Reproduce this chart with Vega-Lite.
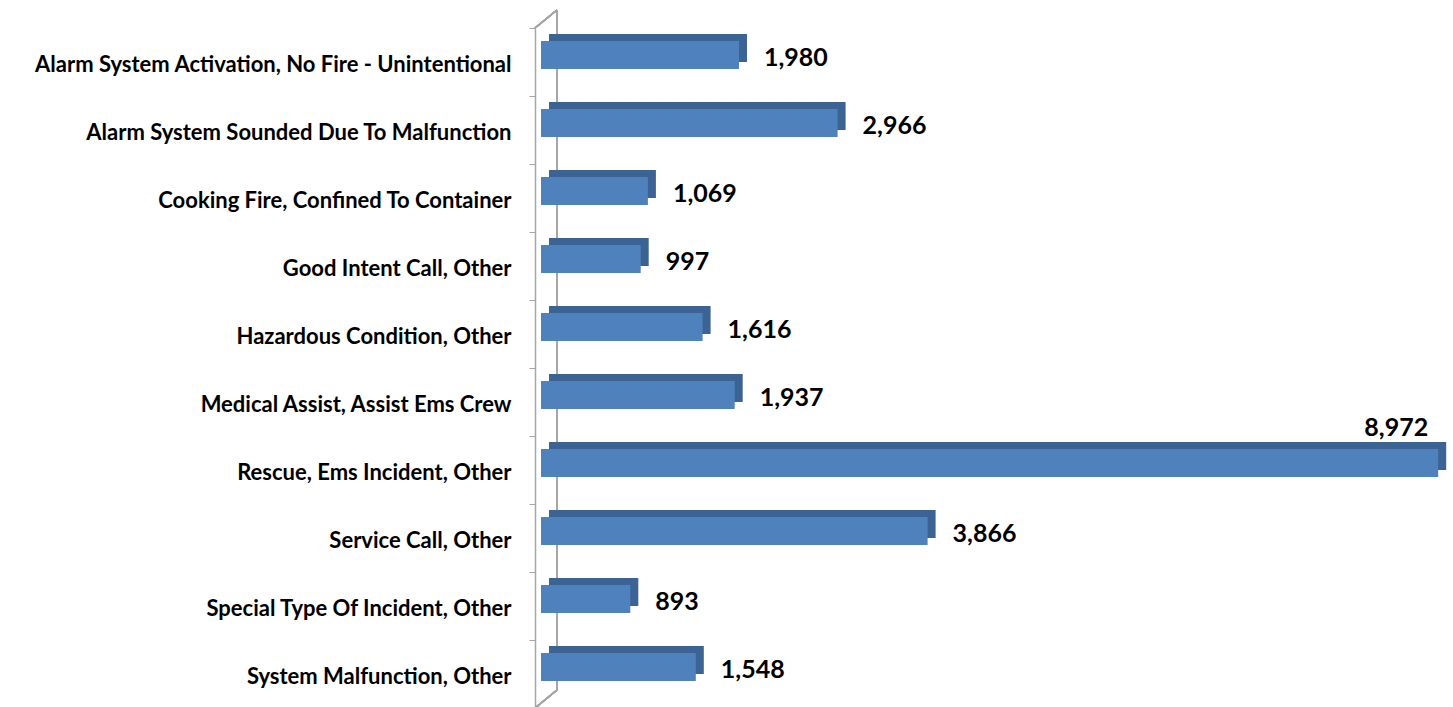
{
  "$schema": "https://vega.github.io/schema/vega-lite/v6.json",
  "autosize": "none",
  "width": 900,
  "height": 680,
  "padding": {"left": 541, "top": 28, "right": 12, "bottom": 0},
  "background": "white",
  "config": {"view": {"stroke": null}, "font": "Lato"},
  "data": {
    "values": [
      {"type": "Alarm System Activation, No Fire - Unintentional", "count": 1980},
      {"type": "Alarm System Sounded Due To Malfunction", "count": 2966},
      {"type": "Cooking Fire, Confined To Container", "count": 1069},
      {"type": "Good Intent Call, Other", "count": 997},
      {"type": "Hazardous Condition, Other", "count": 1616},
      {"type": "Medical Assist, Assist Ems Crew", "count": 1937},
      {"type": "Rescue, Ems Incident, Other", "count": 8972},
      {"type": "Service Call, Other", "count": 3866},
      {"type": "Special Type Of Incident, Other", "count": 893},
      {"type": "System Malfunction, Other", "count": 1548}
    ]
  },
  "encoding": {
    "y": {
      "field": "type",
      "type": "nominal",
      "sort": null,
      "scale": {
        "domain": [
          "Alarm System Activation, No Fire - Unintentional",
          "Alarm System Sounded Due To Malfunction",
          "Cooking Fire, Confined To Container",
          "Good Intent Call, Other",
          "Hazardous Condition, Other",
          "Medical Assist, Assist Ems Crew",
          "Rescue, Ems Incident, Other",
          "Service Call, Other",
          "Special Type Of Incident, Other",
          "System Malfunction, Other"
        ],
        "paddingInner": 0,
        "paddingOuter": 0
      },
      "axis": {
        "title": null,
        "offset": 6,
        "domainColor": "#a6a6a6",
        "domainWidth": 1.5,
        "tickColor": "#a6a6a6",
        "tickSize": 6,
        "tickBand": "extent",
        "labelPadding": 18,
        "labelOffset": 2,
        "labelFont": "Lato",
        "labelFontWeight": "bold",
        "labelFontSize": 22,
        "labelColor": "#000000",
        "labelLimit": 600
      }
    }
  },
  "layer": [
    {
      "mark": {"type": "rule", "color": "#a6a6a6", "strokeWidth": 1.5, "xOffset": 16, "x2Offset": 16, "yOffset": -18, "y2Offset": -18},
      "encoding": {
        "x": {"datum": 0, "type": "quantitative", "scale": {"domain": [0, 9000]}, "axis": null},
        "x2": {"datum": 0},
        "y": {"datum": "Alarm System Activation, No Fire - Unintentional", "bandPosition": 0},
        "y2": {"datum": "System Malfunction, Other", "bandPosition": 1}
      }
    },
    {
      "mark": {"type": "rule", "color": "#a6a6a6", "strokeWidth": 1.5, "xOffset": -6, "x2Offset": 16, "y2Offset": -18},
      "encoding": {
        "x": {"datum": 0, "type": "quantitative"},
        "x2": {"datum": 0},
        "y": {"datum": "Alarm System Activation, No Fire - Unintentional", "bandPosition": 0},
        "y2": {"datum": "Alarm System Activation, No Fire - Unintentional", "bandPosition": 0}
      }
    },
    {
      "mark": {"type": "rule", "color": "#a6a6a6", "strokeWidth": 1.5, "xOffset": -6, "x2Offset": 16, "y2Offset": -18},
      "encoding": {
        "x": {"datum": 0, "type": "quantitative"},
        "x2": {"datum": 0},
        "y": {"datum": "System Malfunction, Other", "bandPosition": 1},
        "y2": {"datum": "System Malfunction, Other", "bandPosition": 1}
      }
    },
    {
      "mark": {"type": "bar", "size": 28, "color": "#3b6394", "xOffset": 8, "x2Offset": 8, "yOffset": -14},
      "encoding": {"x": {"field": "count", "type": "quantitative"}}
    },
    {
      "mark": {"type": "bar", "size": 28, "color": "#4f81bd", "yOffset": -7},
      "encoding": {"x": {"field": "count", "type": "quantitative"}}
    },
    {
      "transform": [{"filter": "datum.count < 8000"}],
      "mark": {"type": "text", "align": "left", "baseline": "middle", "dx": 25, "dy": -4, "font": "Lato", "fontWeight": "bold", "fontSize": 25, "color": "#000000"},
      "encoding": {
        "x": {"field": "count", "type": "quantitative"},
        "text": {"field": "count", "type": "quantitative", "format": ","}
      }
    },
    {
      "transform": [{"filter": "datum.count >= 8000"}],
      "mark": {"type": "text", "align": "right", "baseline": "middle", "dx": -10, "dy": -42, "font": "Lato", "fontWeight": "bold", "fontSize": 25, "color": "#000000"},
      "encoding": {
        "x": {"field": "count", "type": "quantitative"},
        "text": {"field": "count", "type": "quantitative", "format": ","}
      }
    }
  ]
}
